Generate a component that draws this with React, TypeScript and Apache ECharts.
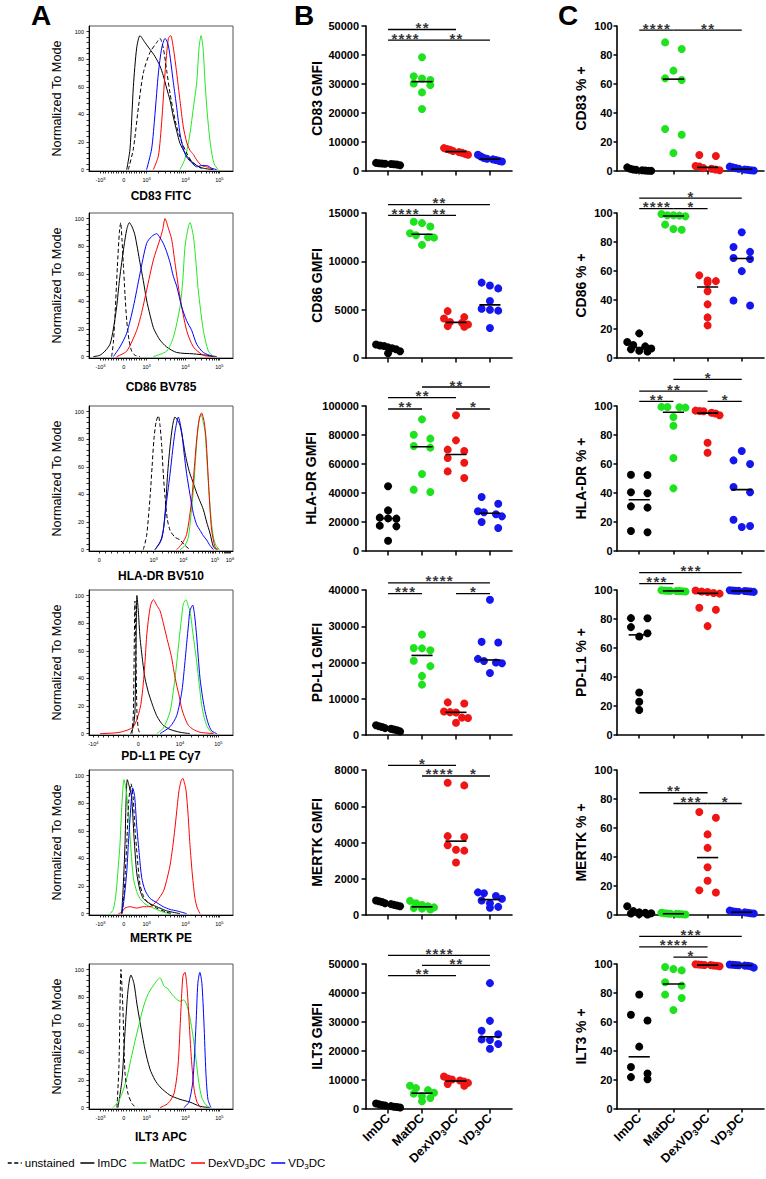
import React, { useEffect, useRef } from 'react';
import * as echarts from 'echarts';

const FONT = 'Arial, "Liberation Sans", Helvetica, sans-serif';
const NARROW = '"Liberation Sans Narrow", "Arial Narrow", Arial, "Liberation Sans", sans-serif';

// ---------- groups ----------
const GROUPS = ['ImDC', 'MatDC', 'DexVD3DC', 'VD3DC'];
const GROUP_COLORS = ['#000000', '#1ee21e', '#f01515', '#1515ee'];
const HIST_NAMES = ['unstained', 'ImDC', 'MatDC', 'DexVD3DC', 'VD3DC'];
const HIST_COLORS = ['#000000', '#000000', '#22e622', '#ff0000', '#0000ff'];

// ---------- histogram axis ticks (display channel 0..1000) ----------
const TICK_STD_POS = [80, 241, 400, 670, 905];
const TICK_STD_LAB = ['-10^3', '0', '10^3', '10^4', '10^5'];
const TICK_HLA_POS = [72, 449, 655, 875, 979];
const TICK_HLA_LAB = ['0', '10^3', '10^4', '10^5', '10^6'];
const TICK_PDL1_POS = [30, 343, 632, 898];
const TICK_PDL1_LAB = ['-10^4', '0', '10^4', '10^5'];

// ---------- histograms: [channel, % of mode] ----------
const H_CD83_UN = [[273,0],[308,15],[343,45],[377,70],[424,85],[470,92],[493,95],[516,88],[539,72],[563,55],[586,42],[609,31],[644,20],[678,12],[713,6],[748,3],[794,0]];
const H_CD83_IM = [[262,0],[285,15],[308,60],[331,88],[354,97],[389,92],[424,87],[458,82],[493,75],[516,68],[539,59],[563,50],[586,38],[609,28],[632,19],[667,12],[701,7],[748,3],[794,1],[864,0]];
const H_CD83_MAT = [[632,0],[667,8],[701,26],[725,45],[748,63],[764,88],[778,97],[792,88],[806,63],[822,40],[840,21],[859,8],[875,3],[898,0]];
const H_CD83_DEX = [[447,0],[482,10],[505,35],[528,70],[551,95],[567,97],[586,88],[609,70],[632,50],[655,31],[678,20],[701,14],[725,11],[748,7],[782,3],[817,2],[864,0]];
const H_CD83_VD = [[400,0],[435,15],[458,40],[482,70],[505,88],[528,95],[551,90],[586,63],[609,45],[632,26],[655,15],[678,9],[713,5],[748,2],[782,3],[817,3],[852,1],[887,0]];

const H_CD86_UN = [[157,0],[169,10],[181,31],[197,65],[211,90],[220,97],[229,85],[238,68],[250,45],[262,26],[278,12],[296,4],[319,1],[354,0]];
const H_CD86_IM = [[30,0],[76,1],[111,4],[146,9],[169,20],[192,36],[211,55],[227,68],[243,80],[262,92],[280,97],[299,94],[319,88],[354,68],[377,55],[400,41],[424,30],[447,21],[470,16],[493,12],[539,7],[609,3],[725,2],[817,1],[887,0]];
const H_CD86_MAT = [[447,0],[539,4],[586,14],[632,36],[651,55],[667,80],[690,94],[701,97],[725,87],[743,68],[759,48],[794,19],[829,4],[864,0]];
const H_CD86_DEX = [[192,0],[262,4],[331,19],[366,32],[400,48],[447,70],[493,85],[512,92],[528,100],[551,93],[574,85],[597,68],[632,43],[678,19],[725,7],[794,1],[864,0]];
const H_CD86_VD = [[169,0],[215,7],[262,17],[308,36],[354,60],[400,82],[435,87],[470,89],[493,86],[516,82],[539,76],[563,68],[586,58],[609,51],[644,36],[678,26],[713,19],[748,9],[794,3],[864,0]];

const H_HLA_UN = [[377,0],[400,10],[424,38],[438,60],[451,80],[465,92],[482,97],[493,90],[505,75],[516,55],[528,38],[544,22],[563,14],[597,9],[632,7],[667,3],[701,0]];
const H_HLA_IM = [[458,0],[505,8],[528,26],[546,55],[563,75],[581,90],[597,96],[613,94],[632,90],[651,80],[667,70],[683,62],[701,55],[725,48],[748,41],[771,35],[794,29],[817,20],[840,12],[864,2],[887,0]];
const H_HLA_MAT = [[632,0],[667,3],[690,9],[708,25],[725,43],[743,70],[759,90],[778,98],[794,92],[806,85],[822,60],[836,38],[850,20],[864,9],[882,3],[905,0]];
const H_HLA_DEX = [[609,0],[644,4],[678,11],[713,36],[732,60],[748,80],[766,95],[782,99],[799,93],[813,80],[829,50],[840,30],[852,14],[875,2],[898,0]];
const H_HLA_VD = [[458,0],[493,5],[516,14],[539,35],[563,55],[581,72],[597,85],[620,96],[644,85],[660,70],[678,55],[701,40],[725,26],[748,18],[771,14],[794,10],[817,7],[840,3],[864,0]];

const H_PDL1_UN = [[299,0],[308,15],[315,70],[319,96],[326,60],[333,15],[343,3],[354,0]];
const H_PDL1_IM = [[289,0],[308,5],[319,16],[326,60],[333,100],[343,88],[354,70],[373,52],[389,40],[412,30],[424,26],[447,19],[470,13],[493,9],[516,6],[563,3],[632,1],[701,0]];
const H_PDL1_MAT = [[470,0],[516,4],[563,16],[597,40],[616,58],[632,74],[644,85],[655,94],[674,97],[690,92],[701,89],[725,70],[748,52],[766,35],[782,21],[799,12],[817,6],[840,2],[864,0]];
const H_PDL1_DEX = [[76,0],[215,1],[308,5],[354,18],[373,32],[389,52],[400,70],[412,82],[428,93],[447,97],[470,93],[493,89],[516,80],[539,70],[558,62],[574,55],[590,45],[609,35],[627,27],[644,18],[667,11],[690,6],[725,3],[771,1],[864,0]];
const H_PDL1_VD = [[493,0],[563,5],[609,13],[644,30],[660,45],[678,65],[692,80],[701,89],[720,93],[734,85],[748,70],[759,55],[771,40],[789,26],[806,16],[829,7],[852,2],[887,0]];

const H_MERTK_UN = [[229,0],[243,13],[252,30],[262,50],[275,80],[292,94],[306,85],[319,62],[336,40],[354,21],[377,13],[400,9],[435,6],[470,4],[539,1],[586,0]];
const H_MERTK_IM = [[227,0],[238,20],[250,50],[257,80],[266,97],[280,92],[296,84],[313,55],[331,30],[354,17],[377,11],[412,8],[447,6],[493,4],[539,2],[632,0]];
const H_MERTK_MAT = [[146,0],[169,3],[188,15],[204,35],[215,50],[229,80],[243,97],[257,90],[273,74],[289,50],[308,26],[331,16],[354,11],[389,7],[424,5],[470,3],[516,1],[563,0]];
const H_MERTK_DEX = [[204,0],[227,1],[250,4],[285,5],[331,4],[377,5],[424,5],[470,9],[516,16],[539,24],[563,35],[581,48],[597,62],[613,78],[625,89],[639,96],[651,98],[662,95],[674,89],[688,72],[701,50],[718,28],[736,11],[752,4],[771,0]];
const H_MERTK_VD = [[227,0],[243,10],[262,30],[273,50],[285,69],[296,85],[303,91],[317,85],[331,64],[350,42],[366,26],[389,17],[424,11],[470,8],[516,5],[563,3],[609,2],[678,0]];

const H_ILT3_UN = [[194,0],[208,30],[222,100],[236,70],[250,25],[271,10],[298,3],[326,0]];
const H_ILT3_IM = [[201,0],[229,20],[250,55],[271,85],[291,96],[312,90],[333,75],[354,62],[389,42],[423,28],[458,20],[493,15],[562,9],[632,6],[701,4],[770,1],[840,0]];
const H_ILT3_MAT = [[167,0],[201,4],[229,10],[264,22],[291,35],[319,48],[347,60],[375,72],[409,82],[444,88],[472,92],[493,94],[521,88],[548,86],[576,82],[604,79],[632,77],[659,78],[680,74],[701,65],[722,52],[743,35],[763,18],[784,7],[812,2],[840,0]];
const H_ILT3_DEX = [[493,0],[548,3],[590,10],[618,30],[638,70],[652,95],[666,98],[680,88],[694,65],[708,40],[729,14],[750,4],[777,0]];
const H_ILT3_VD = [[659,0],[694,4],[722,20],[743,60],[756,90],[770,98],[784,90],[798,62],[812,25],[826,6],[847,0]];

// ---------- GMFI values (ImDC, MatDC, DexVD3DC, VD3DC) ----------
const CD83_GMFI = [
  [2800, 2700, 2600, 2500, 2400, 2300, 2200, 2000],
  [39200, 32700, 31900, 31400, 30200, 29600, 27100, 21400],
  [7900, 7600, 7300, 6900, 6500, 6300, 5900, 5600],
  [5600, 5000, 4500, 4200, 4000, 3800, 3500, 3300],
];
const CD86_GMFI = [
  [1400, 1300, 1250, 1100, 1000, 900, 700, 500],
  [14100, 13950, 13600, 12900, 12700, 12500, 12450, 11700],
  [4850, 4230, 4090, 3720, 3650, 3470, 3300, 3230],
  [7800, 7500, 7200, 5900, 5100, 5000, 4900, 3100],
];
const HLADR_GMFI = [
  [44600, 28000, 23000, 22500, 22300, 17500, 17000, 7100],
  [90800, 80200, 77500, 72400, 71300, 53100, 42300, 40700],
  [93600, 76300, 69900, 69000, 64100, 60900, 54900, 50300],
  [37200, 32600, 27400, 26700, 25300, 23900, 20000, 15900],
];
const PDL1_GMFI = [
  [2700, 2400, 2200, 1900, 1700, 1500, 1300, 1000],
  [27700, 24000, 23900, 23400, 20500, 19000, 16300, 13900],
  [9000, 8700, 6500, 6300, 6200, 4800, 4700, 3400],
  [37300, 25700, 25500, 21000, 20400, 20000, 19800, 17100],
];
const MERTK_GMFI = [
  [800, 760, 720, 650, 600, 560, 520, 480],
  [780, 650, 550, 480, 420, 380, 350, 300],
  [7300, 7150, 4350, 4300, 3850, 3600, 3550, 2900],
  [1250, 1200, 1050, 900, 800, 650, 450, 400],
];
const ILT3_GMFI = [
  [1900, 1600, 1400, 1200, 1000, 800, 700, 500],
  [8000, 7200, 6500, 5600, 5300, 4500, 3800, 2700],
  [11200, 10500, 10200, 9800, 9500, 9000, 8600, 8000],
  [43400, 30400, 27000, 25800, 24000, 23800, 22400, 20800],
];

// ---------- % positive values ----------
const CD83_PCT = [
  [2.5, 1.5, 1, 0.8, 0.5, 0.3, 0.2, 0.1],
  [88.7, 84.1, 69.2, 63.9, 62.8, 29, 25, 12.4],
  [11, 10.3, 3.5, 3, 2, 1.5, 1, 0.5],
  [3, 2.5, 2, 1.5, 1, 0.8, 0.5, 0.3],
];
const CD86_PCT = [
  [17, 11, 9, 8, 6.5, 6, 5, 4.5],
  [99.3, 98.5, 98.4, 98.2, 97.7, 92, 89, 88.5],
  [57, 53.5, 53, 52, 46, 37, 28, 22.5],
  [86.7, 76.6, 73.2, 69, 68.3, 59.9, 39.7, 36.2],
];
const HLADR_PCT = [
  [52.6, 52.4, 40.5, 39.8, 30.8, 29.9, 13.8, 12.9],
  [99.4, 99.3, 99.1, 98.9, 92.4, 86.4, 64.1, 43.2],
  [96.8, 96.6, 96.4, 95.4, 94.8, 93.6, 74.7, 67.8],
  [69, 62.5, 60, 44.1, 40.5, 21.6, 17.2, 16.6],
];
const PDL1_PCT = [
  [80.6, 80.5, 74.4, 70.2, 67.9, 29.3, 22.9, 17.3],
  [99.8, 99.6, 99.5, 99.4, 99.3, 99.2, 99.1, 99],
  [99.7, 99, 98.6, 97.9, 97.5, 87.8, 86.4, 75.1],
  [99.8, 99.6, 99.5, 99.4, 99.3, 99.1, 98.9, 98.7],
];
const MERTK_PCT = [
  [6, 2.8, 1.8, 1.5, 1.2, 1, 0.6, 0.4],
  [1.5, 1.2, 1, 0.9, 0.8, 0.6, 0.5, 0.4],
  [71, 67.1, 55.6, 46.3, 32.9, 23.6, 17.1, 15.5],
  [3, 2.5, 2.2, 2, 1.8, 1.5, 1.2, 1],
];
const ILT3_PCT = [
  [79, 65, 61, 43, 29, 24.5, 22, 20.5],
  [97.9, 96.6, 95.6, 87.4, 85.1, 78.9, 76.6, 68.3],
  [99.8, 99.6, 99.5, 99.3, 99.2, 99, 98.8, 98.5],
  [99.7, 99.5, 99.3, 99.1, 98.9, 98.8, 98.5, 97.5],
];

// ---------- significance bars: [group a, group b, level, stars] ----------
const CD83_GMFI_SIG = [[0, 2, 48800, '**'], [0, 1, 45150, '****'], [1, 3, 45150, '**']];
const CD86_GMFI_SIG = [[0, 3, 15860, '**'], [0, 1, 14760, '****'], [1, 2, 14760, '**']];
const HLADR_GMFI_SIG = [[1, 3, 113100, '**'], [0, 2, 105750, '**'], [0, 1, 97940, '**'], [2, 3, 97940, '*']];
const PDL1_GMFI_SIG = [[0, 3, 41950, '****'], [0, 1, 39000, '***'], [2, 3, 39000, '*']];
const MERTK_GMFI_SIG = [[0, 2, 8260, '*'], [1, 2, 7670, '****'], [2, 3, 7670, '*']];
const ILT3_GMFI_SIG = [[0, 3, 52970, '****'], [1, 3, 49520, '**'], [0, 2, 45960, '**']];

const CD83_PCT_SIG = [[0, 1, 97.2, '****'], [1, 3, 97.2, '**']];
const CD86_PCT_SIG = [[0, 3, 110.2, '*'], [0, 1, 103, '****'], [1, 2, 103, '*']];
const HLADR_PCT_SIG = [[1, 3, 118.4, '*'], [0, 2, 110.3, '**'], [0, 1, 103.2, '**'], [2, 3, 103.2, '*']];
const PDL1_PCT_SIG = [[0, 3, 112, '***'], [0, 1, 104.4, '***']];
const MERTK_PCT_SIG = [[0, 2, 84.3, '**'], [1, 2, 76.9, '***'], [2, 3, 76.9, '*']];
const ILT3_PCT_SIG = [[0, 3, 119, '***'], [0, 2, 111.8, '****'], [1, 2, 104.8, '*']];

// ---------- panels ----------
const PANELS = [
  { hist: [H_CD83_UN, H_CD83_IM, H_CD83_MAT, H_CD83_DEX, H_CD83_VD], histName: 'CD83 FITC', tPos: TICK_STD_POS, tLab: TICK_STD_LAB,
    gmfi: CD83_GMFI, gName: 'CD83 GMFI', gMax: 50000, gStep: 10000, gSig: CD83_GMFI_SIG, pct: CD83_PCT, pName: 'CD83 % +', pSig: CD83_PCT_SIG },
  { hist: [H_CD86_UN, H_CD86_IM, H_CD86_MAT, H_CD86_DEX, H_CD86_VD], histName: 'CD86 BV785', tPos: TICK_STD_POS, tLab: TICK_STD_LAB,
    gmfi: CD86_GMFI, gName: 'CD86 GMFI', gMax: 15000, gStep: 5000, gSig: CD86_GMFI_SIG, pct: CD86_PCT, pName: 'CD86 % +', pSig: CD86_PCT_SIG },
  { hist: [H_HLA_UN, H_HLA_IM, H_HLA_MAT, H_HLA_DEX, H_HLA_VD], histName: 'HLA-DR BV510', tPos: TICK_HLA_POS, tLab: TICK_HLA_LAB,
    gmfi: HLADR_GMFI, gName: 'HLA-DR GMFI', gMax: 100000, gStep: 20000, gSig: HLADR_GMFI_SIG, pct: HLADR_PCT, pName: 'HLA-DR % +', pSig: HLADR_PCT_SIG },
  { hist: [H_PDL1_UN, H_PDL1_IM, H_PDL1_MAT, H_PDL1_DEX, H_PDL1_VD], histName: 'PD-L1 PE Cy7', tPos: TICK_PDL1_POS, tLab: TICK_PDL1_LAB,
    gmfi: PDL1_GMFI, gName: 'PD-L1 GMFI', gMax: 40000, gStep: 10000, gSig: PDL1_GMFI_SIG, pct: PDL1_PCT, pName: 'PD-L1 % +', pSig: PDL1_PCT_SIG },
  { hist: [H_MERTK_UN, H_MERTK_IM, H_MERTK_MAT, H_MERTK_DEX, H_MERTK_VD], histName: 'MERTK PE', tPos: TICK_STD_POS, tLab: TICK_STD_LAB,
    gmfi: MERTK_GMFI, gName: 'MERTK GMFI', gMax: 8000, gStep: 2000, gSig: MERTK_GMFI_SIG, pct: MERTK_PCT, pName: 'MERTK % +', pSig: MERTK_PCT_SIG },
  { hist: [H_ILT3_UN, H_ILT3_IM, H_ILT3_MAT, H_ILT3_DEX, H_ILT3_VD], histName: 'ILT3 APC', tPos: TICK_STD_POS, tLab: TICK_STD_LAB,
    gmfi: ILT3_GMFI, gName: 'ILT3 GMFI', gMax: 50000, gStep: 10000, gSig: ILT3_GMFI_SIG, pct: ILT3_PCT, pName: 'ILT3 % +', pSig: ILT3_PCT_SIG },
];

// ---------- layout ----------
const ROW_TOP = [26, 213, 406, 590, 770, 964];
const ROW_H = 145;
const COL_A = { left: 89, width: 144 };
const COL_B = { left: 366, width: 146 };
const COL_C = { left: 617, width: 147 };
const HIST_NAME_GAP = [19, 23, 19, 15, 17, 22];
const X_MIN = -0.65;
const X_MAX = 3.65;

function stars(s: string) {
  return s.split('').join('\u200A');
}
function median(a: number[]) {
  const s = [...a].sort((x, y) => x - y);
  const n = s.length;
  return n % 2 ? s[(n - 1) / 2] : (s[n / 2 - 1] + s[n / 2]) / 2;
}
function powLabel(l: string) {
  const p = l.split('^');
  return p.length === 2 ? `{b|${p[0]}}{s|${p[1]}}` : `{b|${l}}`;
}
function minorTicks(pos: number[], lab: string[]) {
  const out = [...pos];
  for (let i = 0; i < pos.length - 1; i++) {
    const a = pos[i], b = pos[i + 1];
    const logSeg = lab[i].startsWith('10') && lab[i + 1].startsWith('10');
    for (let k = 2; k <= 9; k++) out.push(logSeg ? a + (b - a) * Math.log10(k) : a + ((b - a) * (k - 1)) / 9);
  }
  return out.filter((v) => v >= 0 && v <= 1000);
}

// beeswarm-style layout (pixel based), returns x offsets in axis units
function swarmOffsets(values: number[], pxPerY: number, pxPerX: number) {
  const DOT = 8, MAXW = 12, STEP = 8.3;
  const order = values.map((_, i) => i).sort((a, b) => values[b] - values[a]);
  const rows: number[][] = [];
  let cur: number[] = [];
  let start = 0;
  order.forEach((i) => {
    const py = values[i] * pxPerY;
    if (cur.length && start - py < DOT * 0.9) cur.push(i);
    else {
      if (cur.length) rows.push(cur);
      cur = [i];
      start = py;
    }
  });
  if (cur.length) rows.push(cur);
  const off = values.map(() => 0);
  rows.forEach((row) => {
    const n = row.length;
    const slots: number[] = [];
    if (n % 2) for (let k = -(n - 1) / 2; k <= (n - 1) / 2; k++) slots.push(k);
    else {
      for (let k = n / 2; k >= 1; k--) slots.push(-k);
      for (let k = 1; k <= n / 2; k++) slots.push(k);
    }
    const maxSlot = Math.max(...slots.map(Math.abs));
    const step = maxSlot > 0 ? Math.min(STEP, MAXW / maxSlot) : 0;
    row.forEach((idx, j) => {
      off[idx] = (slots[j] * step) / pxPerX;
    });
  });
  return off;
}

function buildOption() {
  const grid: any[] = [];
  const xAxis: any[] = [];
  const yAxis: any[] = [];
  const series: any[] = [];
  const catLabels = GROUPS.map((g) => g.replace('VD3', 'VD{s|3}'));

  const addDotPanel = (r: number, col: { left: number; width: number }, values: number[][], max: number, step: number,
    sig: any[], name: string, nameGap: number, labelMargin: number, tickLen: number, prefix: string) => {
    const gi = grid.length;
    grid.push({ left: col.left, top: ROW_TOP[r], width: col.width, height: ROW_H });
    const showCats = r === PANELS.length - 1;
    xAxis.push({
      type: 'value', gridIndex: gi, min: X_MIN, max: X_MAX,
      axisLine: { onZero: false, lineStyle: { color: '#000', width: 1.6 } },
      axisTick: { customValues: [0, 1, 2, 3], length: tickLen, lineStyle: { color: '#000', width: 1.5 } },
      axisLabel: showCats
        ? {
            customValues: [0, 1, 2, 3], rotate: 45, margin: 7, color: '#000', fontSize: 12.5, fontWeight: 'bold', fontFamily: FONT,
            lineHeight: 15,
            formatter: (v: number) => catLabels[Math.round(v)],
            rich: { s: { fontSize: 8.5, fontWeight: 'bold', fontFamily: FONT, lineHeight: 8, verticalAlign: 'bottom', color: '#000' } },
          }
        : { show: false },
      splitLine: { show: false },
    });
    yAxis.push({
      type: 'value', gridIndex: gi, min: 0, max, interval: step,
      name, nameLocation: 'middle', nameGap,
      nameTextStyle: { fontSize: 14, fontWeight: 'bold', color: '#000', fontFamily: FONT },
      axisLine: { show: true, onZero: false, lineStyle: { color: '#000', width: 1.6 } },
      axisTick: { show: true, length: tickLen, lineStyle: { color: '#000', width: 1.5 } },
      axisLabel: { fontSize: 11, fontWeight: 'bold', color: '#000', margin: labelMargin, fontFamily: FONT, formatter: (v: number) => String(v) },
      splitLine: { show: false },
    });
    const pxPerY = ROW_H / max;
    const pxPerX = col.width / (X_MAX - X_MIN);
    values.forEach((vals, g) => {
      const off = swarmOffsets(vals, pxPerY, pxPerX);
      series.push({
        type: 'scatter', name: `${prefix}-${GROUPS[g]}`, xAxisIndex: gi, yAxisIndex: gi, symbolSize: 8, clip: false,
        itemStyle: { color: GROUP_COLORS[g], opacity: 1 }, z: 3, silent: true,
        data: vals.map((v, k) => [g + off[k], v]),
      });
      const m = median(vals);
      series.push({
        type: 'line', xAxisIndex: gi, yAxisIndex: gi, symbol: 'none', silent: true, z: 4, clip: false,
        lineStyle: { color: '#000', width: 1.6 },
        data: [[g - 0.31, m], [g + 0.31, m]],
      });
    });
    sig.forEach(([a, b, lvl, txt]) => {
      series.push({
        type: 'line', xAxisIndex: gi, yAxisIndex: gi, symbol: 'none', silent: true, clip: false, z: 4,
        lineStyle: { color: '#000', width: 1.3 },
        data: [[a, lvl], [b, lvl]],
      });
      series.push({
        type: 'scatter', xAxisIndex: gi, yAxisIndex: gi, symbolSize: 0.1, silent: true, clip: false, z: 5,
        itemStyle: { color: 'transparent' },
        label: {
          show: true, position: 'inside', offset: [0, -2], formatter: () => stars(txt),
          fontSize: 15, fontWeight: 'bold', color: '#000', fontFamily: FONT, lineHeight: 8,
        },
        data: [[(a + b) / 2, lvl]],
      });
    });
  };

  PANELS.forEach((p, r) => {
    // ---- column A: histogram ----
    const gi = grid.length;
    grid.push({ left: COL_A.left, top: ROW_TOP[r], width: COL_A.width, height: ROW_H, show: true, borderColor: '#555', borderWidth: 1 });
    const yTicks: number[] = [];
    for (let v = 0; v <= 100; v += 4) yTicks.push(v);
    xAxis.push({
      type: 'value', gridIndex: gi, min: 0, max: 1000,
      name: p.histName, nameLocation: 'middle', nameGap: HIST_NAME_GAP[r],
      nameTextStyle: { fontSize: 12, fontWeight: 'bold', color: '#000', fontFamily: FONT },
      axisLine: { onZero: false, lineStyle: { color: '#000', width: 1 } },
      axisTick: { customValues: minorTicks(p.tPos, p.tLab), length: 2.5, lineStyle: { color: '#000', width: 0.8 } },
      axisLabel: {
        customValues: p.tPos, margin: 5, color: '#000',
        formatter: (v: number) => {
          const i = p.tPos.findIndex((q) => Math.abs(q - v) < 0.5);
          return i >= 0 ? powLabel(p.tLab[i]) : '';
        },
        rich: {
          b: { fontSize: 5.5, lineHeight: 8, color: '#000', fontFamily: FONT },
          s: { fontSize: 4, lineHeight: 4, verticalAlign: 'top', color: '#000', fontFamily: FONT },
        },
      },
      splitLine: { show: false },
    });
    yAxis.push({
      type: 'value', gridIndex: gi, min: -1, max: 104,
      name: 'Normalized To Mode', nameLocation: 'middle', nameGap: 26,
      nameTextStyle: { fontSize: 12.7, color: '#000', fontFamily: FONT },
      axisLine: { show: true, onZero: false, lineStyle: { color: '#000', width: 1 } },
      axisTick: { show: true, customValues: yTicks, length: 2.5, lineStyle: { color: '#000', width: 0.8 } },
      axisLabel: { customValues: [0, 20, 40, 60, 80, 100], fontSize: 5.5, margin: 5, color: '#000', fontFamily: FONT },
      splitLine: { show: false },
    });
    p.hist.forEach((curve, k) => {
      series.push({
        type: 'line', name: HIST_NAMES[k], xAxisIndex: gi, yAxisIndex: gi, symbol: 'none', smooth: 0.25, silent: true,
        lineStyle: { color: HIST_COLORS[k], width: 1, type: k === 0 ? [4, 2.5] : 'solid' },
        itemStyle: { color: HIST_COLORS[k] },
        z: k === 0 ? 6 : 2 + k,
        data: curve,
      });
    });

    // ---- column B: GMFI ----
    addDotPanel(r, COL_B, p.gmfi, p.gMax, p.gStep, p.gSig, p.gName, 42, 7, 4.5, `g${r}`);
    // ---- column C: % positive ----
    addDotPanel(r, COL_C, p.pct, 100, 20, p.pSig, p.pName, 29, 4.5, 3.5, `p${r}`);
  });

  return {
    animation: false,
    backgroundColor: '#ffffff',
    grid, xAxis, yAxis, series,
    legend: {
      left: 2, top: 1151, itemWidth: 14, itemHeight: 8, itemGap: 5, selectedMode: false,
      data: HIST_NAMES,
      itemStyle: { opacity: 0 },
      lineStyle: { width: 1.5 },
      formatter: (n: string) => n.replace('VD3', 'VD{s|3}'),
      textStyle: {
        fontSize: 11.5, color: '#000', fontFamily: NARROW, lineHeight: 14, padding: [0, 0, 0, -2],
        rich: { s: { fontSize: 8, lineHeight: 8, verticalAlign: 'bottom', color: '#000', fontFamily: NARROW } },
      },
    },
    graphic: [
      { type: 'text', left: 31, top: 1, style: { text: 'A', font: `bold 28px ${FONT}`, fill: '#000' } },
      { type: 'text', left: 294, top: 1, style: { text: 'B', font: `bold 28px ${FONT}`, fill: '#000' } },
      { type: 'text', left: 558, top: 1, style: { text: 'C', font: `bold 28px ${FONT}`, fill: '#000' } },
    ],
  };
}

export default function App() {
  const ref = useRef<HTMLDivElement>(null);
  useEffect(() => {
    if (!ref.current) return;
    const chart = echarts.init(ref.current, null, { renderer: 'svg' });
    chart.setOption(buildOption() as any);
    return () => chart.dispose();
  }, []);
  return (
    <div
      ref={ref}
      style={{ position: 'absolute', left: 0, top: 0, width: 766, height: 1179, background: '#fff' }}
    />
  );
}
